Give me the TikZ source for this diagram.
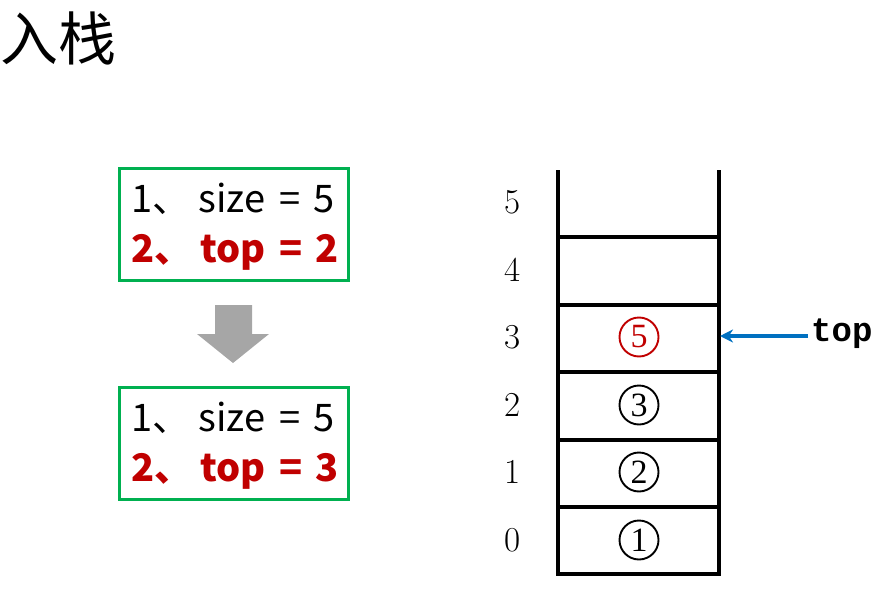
\documentclass[tikz,border=0pt]{standalone}
\usepackage{fontspec}
\newfontfamily\cjk{Noto Sans CJK SC}
\newfontfamily\monob{Liberation Mono}
\newfontfamily\tserif{Liberation Serif}
\usetikzlibrary{arrows.meta}
\definecolor{boxgreen}{RGB}{0,176,80}
\definecolor{darkred}{RGB}{192,0,0}
\definecolor{arrowblue}{RGB}{0,112,192}
\definecolor{arrowgray}{RGB}{166,166,166}
\newcommand{\eqgap}{\hspace{14pt}=\hspace{13pt}}
\begin{document}
\begin{tikzpicture}[x=1pt,y=-1pt,
  infobox/.style={draw=boxgreen,line width=3pt,minimum width=229pt,minimum height=112pt,inner sep=0pt},
  boxline/.style={anchor=base west,font=\cjk\fontsize{38}{40}\selectfont,inner sep=0pt},
  boxbold/.style={boxline,text=darkred,font=\cjk\bfseries\fontsize{38}{40}\selectfont},
  idx/.style={font=\fontsize{35}{40}\selectfont,inner sep=0pt},
  circnum/.style={circle,draw,line width=1.9pt,minimum size=39pt,inner sep=0pt,font=\tserif\fontsize{34}{36}\selectfont},
  stackline/.style={line width=3.5pt}]
\useasboundingbox (0,0) rectangle (889,589);
% title
\node[font=\cjk\fontsize{58}{62}\selectfont,anchor=west,inner sep=0pt] (title) at (0,38) {入栈};
% boxes
\node[infobox] (box1) at (233.5,224.5) {};
\node[infobox] (box2) at (233.5,443) {};
\node[boxline] (b1l1) at (131,212) {1、\hspace{8pt}size\eqgap 5};
\node[boxbold] (b1l2) at (131,262) {2、\hspace{8pt}top\eqgap 2};
\node[boxline] (b2l1) at (131,431) {1、\hspace{8pt}size\eqgap 5};
\node[boxbold] (b2l2) at (131,481) {2、\hspace{8pt}top\eqgap 3};
% gray down arrow
\fill[arrowgray] (215,305) -- (252,305) -- (252,334) -- (269,334) -- (233,363) -- (197,334) -- (215,334) -- cycle;
% stack
\draw[stackline] (558,170) -- (558,574) -- (719,574) -- (719,170);
\foreach \yy in {237,305,372,440,507} {
  \draw[stackline] (558,\yy) -- (719,\yy);
}
% index labels
\node[idx] (i5) at (513,202) {5};
\node[idx] (i4) at (513,270) {4};
\node[idx] (i3) at (513,337) {3};
\node[idx] (i2) at (513,405) {2};
\node[idx] (i1) at (513,472) {1};
\node[idx] (i0) at (513,540) {0};
% circled elements
\node[circnum,draw=darkred,text=darkred] (e5) at (639,337) {5};
\node[circnum] (e3) at (639,405) {3};
\node[circnum] (e2) at (639,472) {2};
\node[circnum] (e1) at (639,540) {1};
% top pointer
\coordinate (topcell) at (720,336);
\node[font=\monob\bfseries\fontsize{34}{36}\selectfont,anchor=west,inner sep=0pt] (toplbl) at (811,334) {top};
\draw[arrowblue,line width=3.5pt,-{Stealth[length=13pt,width=13pt]}] ([xshift=-3pt,yshift=-2pt]toplbl.west) -- (topcell);
\end{tikzpicture}
\end{document}
